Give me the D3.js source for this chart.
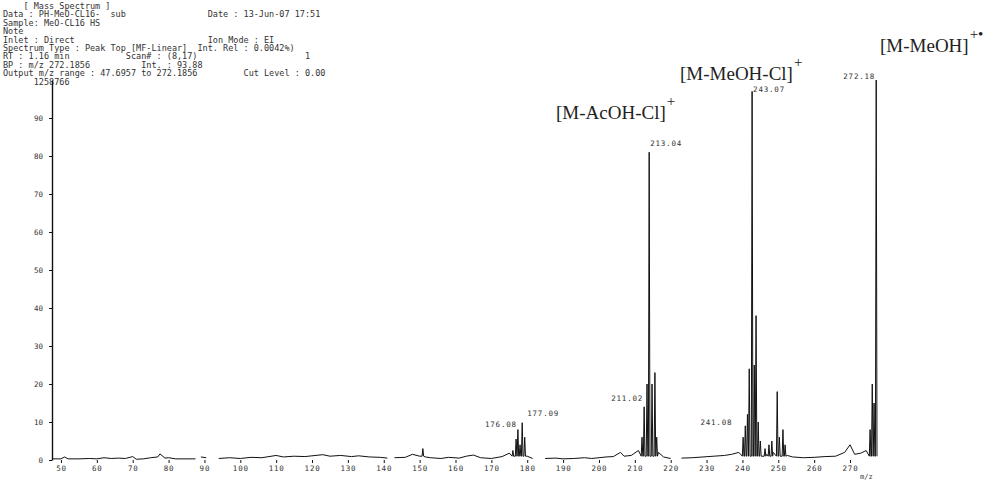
<!DOCTYPE html>
<html>
<head>
<meta charset="utf-8">
<script src="https://cdn.jsdelivr.net/npm/d3@7"></script>
<style>
  body { margin: 0; background: #fff; }
  svg { display: block; }
</style>
</head>
<body>
<div id="plot"></div>
<script>
// scanned EI mass spectrum, redrawn

// instrument header block (as printed on the scan)
const headerLines = [
  "    [ Mass Spectrum ]",
  "Data : PH-MeO-CL16-  sub                Date : 13-Jun-07 17:51",
  "Sample: MeO-CL16 HS",
  "Note",
  "Inlet : Direct                          Ion Mode : EI",
  "Spectrum Type : Peak Top [MF-Linear]  Int. Rel : 0.0042%)",
  "RT : 1.16 min           Scan# : (8,17)                     1",
  "BP : m/z 272.1856          Int. : 93.88",
  "Output m/z range : 47.6957 to 272.1856         Cut Level : 0.00",
  "      1258766"
];

// axis ticks
const xTicks = d3.range(50, 280, 10);
const yTicks = d3.range(0, 100, 10);

// baseline / noise trace (m/z, % rel. int.), null = gap in the scan
const baseMz  = [47.6, 50, 51, 52, 55, 58, 60, 62, 64, 66, 68, 70, 71, 73, 75, 77, 77.6, 79, 80, 82, 84, 86, 87.5, 88,
                 89, 90.5, 91, 94, 97, 100, 103, 106, 108, 110, 112, 115, 118, 120, 123, 125, 128, 131, 133, 136, 139,
                 141, 142, 143, 146, 148, 150, 151.6, 153, 156, 158, 161, 163, 165, 167, 170, 173, 175, 180, 181.5,
                 182, 185, 188, 190, 193, 196, 198, 200, 202, 204, 206, 207, 209, 211, 216.6, 218, 220, 221, 223, 226,
                 229, 232, 235, 237, 239, 246.8, 248.6, 252.5, 254, 257, 260, 263, 266, 268.5, 270, 271.3, 273, 274.5];
const baseInt = [0.3, 0.3, 0.8, 0.3, 0.3, 0.4, 0.3, 0.6, 0.4, 0.5, 0.4, 0.9, 0.2, 0.3, 0.6, 0.8, 1.6, 0.5, 0.6, 0.3, 0.3, 0.3, 0.3, null,
                 0.8, 0.6, null, 0.4, 0.6, 0.4, 0.7, 0.6, 0.9, 1.2, 0.8, 1.0, 0.9, 1.1, 1.4, 1.0, 1.2, 0.9, 1.1, 0.8, 0.7,
                 0.5, null, 0.6, 0.7, 1.5, 1.0, 0.8, 0.6, 0.4, 0.7, 0.5, 1.0, 1.3, 0.6, 0.4, 0.9, 1.8, 1.0, 0.4,
                 null, 0.4, 0.5, 0.3, 0.4, 0.6, 0.4, 0.6, 0.8, 0.9, 2.0, 1.0, 1.2, 2.5, 2.0, 0.8, 0.4, null, 0.5, 0.6,
                 0.8, 1.0, 1.2, 1.5, 2.0, 1.5, 2.0, 1.2, 0.8, 0.6, 0.7, 0.9, 1.0, 2.0, 4.0, 1.5, 1.8, 2.5];

// peaks (m/z, % rel. int.)
const peakMz  = [150.9, 176.0, 176.9, 177.4, 178.0, 178.6, 179.3,
                 212.0, 212.6, 213.4, 214.0, 214.8, 215.6, 216.1,
                 240.2, 240.8, 241.4, 241.9, 242.7, 243.3, 243.8, 244.4, 245.0,
                 246.3, 247.4, 248.2, 249.7, 250.3, 251.3, 251.9,
                 275.6, 276.2, 276.7, 277.3];
const peakInt = [3.0, 2.5, 5.5, 8.0, 4.0, 9.8, 6.0,
                 6.0, 14.0, 20.0, 81.0, 20.0, 23.0, 6.0,
                 6.0, 9.0, 12.0, 24.0, 97.0, 25.0, 38.0, 10.0, 5.0,
                 3.0, 4.0, 5.0, 18.0, 6.0, 8.0, 4.0,
                 8.0, 20.0, 15.0, 100.0];

// peak m/z labels
const labelText = ["176.08", "177.09", "211.02", "213.04", "241.08", "243.07", "272.18"];
const labelMz   = [177.4, 178.6, 212.6, 214.0, 240.8, 242.7, 277.3];
const labelInt  = [8.0, 9.8, 14.0, 81.0, 9.0, 97.0, 100.0];

// fragment annotations
const annoText = ["[M-AcOH-Cl]", "[M-MeOH-Cl]", "[M-MeOH]"];
const annoSup  = ["+", "+", "+\u2022"];

const width = 998, height = 480;

const svg = d3.select("div#plot")
  .append("svg")
  .attr("width", width)
  .attr("height", height)
  .style("background", "#fff");

const xScale = d3.scaleLinear().domain([47.5, 277.8]).range([52, 878]);
const yScale = d3.scaleLinear().domain([0, 100]).range([460, 80]);

// header text
svg.append("g")
  .selectAll("text")
  .data(headerLines)
  .enter()
  .append("text")
  .attr("x", 3)
  .attr("y", (d, i) => 9 + i * 8.4)
  .style("white-space", "pre")
  .style("font-family", "'DejaVu Sans Mono', monospace")
  .style("font-size", "8.5px")
  .style("fill", "#333")
  .text(d => d);

// y axis
const yAxis = svg.append("g")
  .attr("transform", `translate(${xScale.range()[0]},0)`)
  .call(d3.axisLeft(yScale).tickValues(yTicks).tickSize(3).tickSizeOuter(0).tickPadding(6));
yAxis.select(".domain").attr("stroke", "#111").attr("stroke-width", 1.4);
yAxis.selectAll("line").attr("stroke", "#111");
yAxis.selectAll("text")
  .style("font-family", "'DejaVu Sans Mono', monospace")
  .style("font-size", "7.5px")
  .style("fill", "#333");

// x axis: ticks only, the trace itself is the baseline
const xAxis = svg.append("g")
  .attr("transform", `translate(0,${yScale(0)})`)
  .call(d3.axisBottom(xScale).tickValues(xTicks).tickSize(3).tickSizeOuter(0).tickPadding(3));
xAxis.select(".domain").remove();
xAxis.selectAll("line").attr("stroke", "#111");
xAxis.selectAll("text")
  .style("font-family", "'DejaVu Sans Mono', monospace")
  .style("font-size", "7.5px")
  .style("letter-spacing", "0.8px")
  .style("fill", "#333");

svg.append("text")
  .attr("x", 860)
  .attr("y", 479)
  .style("font-family", "'DejaVu Sans Mono', monospace")
  .style("font-size", "7px")
  .style("fill", "#333")
  .text("m/z");

// build the profile: noise points plus a narrow spike for every peak
const halfWidth = 0.22, peakFoot = 1.0;
const profile = baseMz.map((m, i) => ({ mz: m, v: baseInt[i] }));
peakMz.forEach((m, i) => {
  profile.push({ mz: m - halfWidth, v: peakFoot });
  profile.push({ mz: m, v: peakInt[i] });
  profile.push({ mz: m + halfWidth, v: peakFoot });
});
profile.sort((a, b) => a.mz - b.mz);

const line = d3.line()
  .defined(d => d.v !== null)
  .x(d => xScale(d.mz))
  .y(d => yScale(d.v));

svg.append("path")
  .datum(profile)
  .attr("fill", "none")
  .attr("stroke", "#111")
  .attr("stroke-width", 1)
  .attr("stroke-linejoin", "miter")
  .attr("d", line);

// peak labels: [dx, dy, anchor]
const labelOffsets = [[-1, -3, "end"], [5, -7, "start"], [-1, -6, "end"], [1, -6, "start"],
                      [-13, -1, "end"], [1, 1, "start"], [-1, -1, "end"]];
svg.append("g")
  .selectAll("text")
  .data(labelText)
  .enter()
  .append("text")
  .attr("x", (d, i) => xScale(labelMz[i]) + labelOffsets[i][0])
  .attr("y", (d, i) => yScale(labelInt[i]) + labelOffsets[i][1])
  .attr("text-anchor", (d, i) => labelOffsets[i][2])
  .style("font-family", "'DejaVu Sans Mono', monospace")
  .style("font-size", "7.5px")
  .style("letter-spacing", "0.8px")
  .style("fill", "#333")
  .text(d => d);

// fragment annotations
const annoPos = [[556, 119], [680, 80], [880, 52]];
const anno = svg.append("g")
  .style("font-family", "'Liberation Serif', 'DejaVu Serif', serif")
  .style("fill", "#222");
annoText.forEach((t, i) => {
  const txt = anno.append("text")
    .attr("x", annoPos[i][0])
    .attr("y", annoPos[i][1])
    .style("font-size", "19px")
    .text(t);
  const w = txt.node().getComputedTextLength();
  anno.append("text")
    .attr("x", annoPos[i][0] + w + 1)
    .attr("y", annoPos[i][1] - 13)
    .style("font-size", "15px")
    .text(annoSup[i]);
});
</script>
</body>
</html>
